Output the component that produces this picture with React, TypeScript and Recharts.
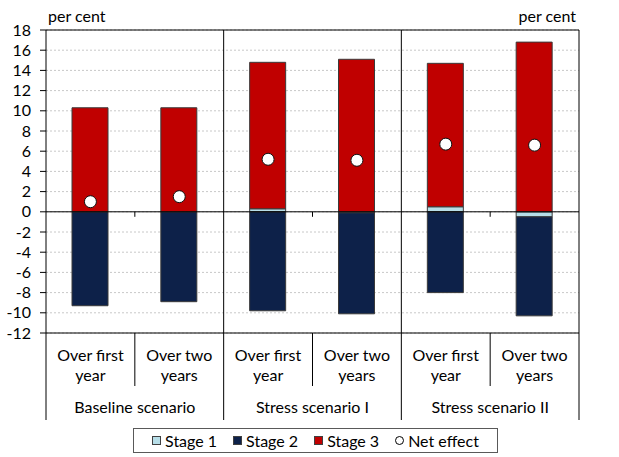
import React from 'react';
import { ComposedChart, Bar, Line, XAxis, YAxis, CartesianGrid, ReferenceLine, Legend } from 'recharts';

const groups = ['Baseline scenario', 'Stress scenario I', 'Stress scenario II'];
const periods = [['Over first', 'year'], ['Over two', 'years']];
const stage1 = [0, 0, 0.3, -0.1, 0.5, -0.5];
const stage2 = [-9.3, -8.9, -9.8, -10.0, -8.0, -9.8];
const stage3 = [10.3, 10.3, 14.5, 15.1, 14.2, 16.8];
const netEffect = [1.0, 1.5, 5.2, 5.1, 6.7, 6.6];
const yTicks = [-12, -10, -8, -6, -4, -2, 0, 2, 4, 6, 8, 10, 12, 14, 16, 18];

const data = stage1.map((v, i) => ({
    key: `c${i}`,
    stage1: v,
    stage2: stage2[i],
    stage3: stage3[i],
    net: netEffect[i],
}));

const W = 619;
const H = 457;
const FONT = 'Lato, "Open Sans", sans-serif';
const FS = 16;
const BAND = (W - 46 - 40) / 6;
const PLOT_H = 303;
const ZERO_UP = PLOT_H * 12 / 30; // distance from plot bottom up to the zero line

function CatTick(props: any) {
    const { x, y, index } = props;
    const p = periods[index % 2];
    const g = Math.floor(index / 2);
    const mid = x + BAND / 2;
    return (
        <g>
            <text x={x} y={y + 28} textAnchor="middle" fontSize={FS} fontFamily={FONT} fill="#000">{p[0]}</text>
            <text x={x} y={y + 48} textAnchor="middle" fontSize={FS} fontFamily={FONT} fill="#000">{p[1]}</text>
            {index % 2 === 0 && (
                <>
                    <line x1={mid} x2={mid} y1={y} y2={y + 53} stroke="#000" />
                    <line x1={mid} x2={mid} y1={y - ZERO_UP} y2={y - ZERO_UP + 5} stroke="#000" />
                    <line x1={x - BAND / 2} x2={x - BAND / 2} y1={index === 0 ? y : y - PLOT_H} y2={y + 87} stroke="#000" />
                    <text x={mid} y={y + 80} textAnchor="middle" fontSize={FS} fontFamily={FONT} fill="#000">{groups[g]}</text>
                </>
            )}
            {index === 5 && <line x1={mid} x2={mid} y1={y} y2={y + 87} stroke="#000" />}
        </g>
    );
}

function LegendBox() {
    const items = [
        { label: 'Stage 1', color: '#b7dee8' },
        { label: 'Stage 2', color: '#0d2149' },
        { label: 'Stage 3', color: '#c00000' },
    ];
    return (
        <div style={{ marginLeft: 133, width: 365, height: 25, boxSizing: 'border-box', border: '1px solid #595959',
            display: 'flex', alignItems: 'center', justifyContent: 'center', gap: 16, fontFamily: FONT, fontSize: FS, color: '#000' }}>
            {items.map(it => (
                <span key={it.label} style={{ display: 'flex', alignItems: 'center' }}>
                    <span style={{ width: 9, height: 9, boxSizing: 'border-box', background: it.color, border: '1px solid #404040', marginRight: 4 }} />
                    {it.label}
                </span>
            ))}
            <span style={{ display: 'flex', alignItems: 'center' }}>
                <span style={{ width: 9, height: 9, boxSizing: 'border-box', borderRadius: 5, background: '#fff', border: '1px solid #000', marginRight: 4 }} />
                Net effect
            </span>
        </div>
    );
}

export default function App() {
    return (
        <div style={{ position: 'absolute', left: 0, top: 0, width: W, height: H, background: '#fff', fontFamily: FONT }}>
            <ComposedChart width={W} height={H} data={data} stackOffset="sign" barSize={36}
                margin={{ top: 30, right: 0, left: 0, bottom: 4 }}>
                <CartesianGrid yAxisId="left" xAxisId="cat" horizontal vertical={false} stroke="#c8c8c8" strokeDasharray="2 2" />
                <YAxis yAxisId="left" width={46} domain={[-12, 18]} ticks={yTicks} interval={0}
                    axisLine={{ stroke: '#000' }} tickLine={{ stroke: '#000' }} tickSize={6} tickMargin={9}
                    tick={{ fontSize: FS, fontFamily: FONT, fill: '#000' }}
                    label={(p: any) => (
                        <text x={48} y={p.viewBox.y - 8} textAnchor="start" fontSize={FS} fontFamily={FONT} fill="#000">per cent</text>
                    )} />
                <YAxis yAxisId="right" orientation="right" width={40} domain={[-12, 18]} ticks={yTicks} interval={0}
                    axisLine={{ stroke: '#000' }} tickLine={{ stroke: '#000' }} tickSize={6} tickMargin={8}
                    tick={{ fontSize: FS, fontFamily: FONT, fill: '#000' }}
                    label={(p: any) => (
                        <text x={p.viewBox.x - 3} y={p.viewBox.y - 8} textAnchor="end" fontSize={FS} fontFamily={FONT} fill="#000">per cent</text>
                    )} />
                <ReferenceLine yAxisId="left" xAxisId="cat" y={18} stroke="#000" />
                <Bar yAxisId="left" xAxisId="cat" dataKey="stage1" name="Stage 1" stackId="a" fill="#b7dee8" stroke="#3a3a3a" strokeWidth={1} isAnimationActive={false} />
                <Bar yAxisId="left" xAxisId="cat" dataKey="stage2" name="Stage 2" stackId="a" fill="#0d2149" stroke="#3a3a3a" strokeWidth={1} isAnimationActive={false} />
                <Bar yAxisId="left" xAxisId="cat" dataKey="stage3" name="Stage 3" stackId="a" fill="#c00000" stroke="#3a3a3a" strokeWidth={1} isAnimationActive={false} />
                <ReferenceLine yAxisId="left" xAxisId="cat" y={0} stroke="#000" />
                <XAxis xAxisId="cat" dataKey="key" height={95} tickSize={0} tickMargin={0} interval={0}
                    axisLine={{ stroke: '#000' }} tickLine={false} tick={<CatTick />} />
                <Line yAxisId="left" xAxisId="cat" dataKey="net" name="Net effect" stroke="none" legendType="circle"
                    dot={{ r: 6, fill: '#fff', stroke: '#111', strokeWidth: 1 }} activeDot={false} isAnimationActive={false} />
                <Legend verticalAlign="bottom" content={() => <LegendBox />} />
            </ComposedChart>
        </div>
    );
}
